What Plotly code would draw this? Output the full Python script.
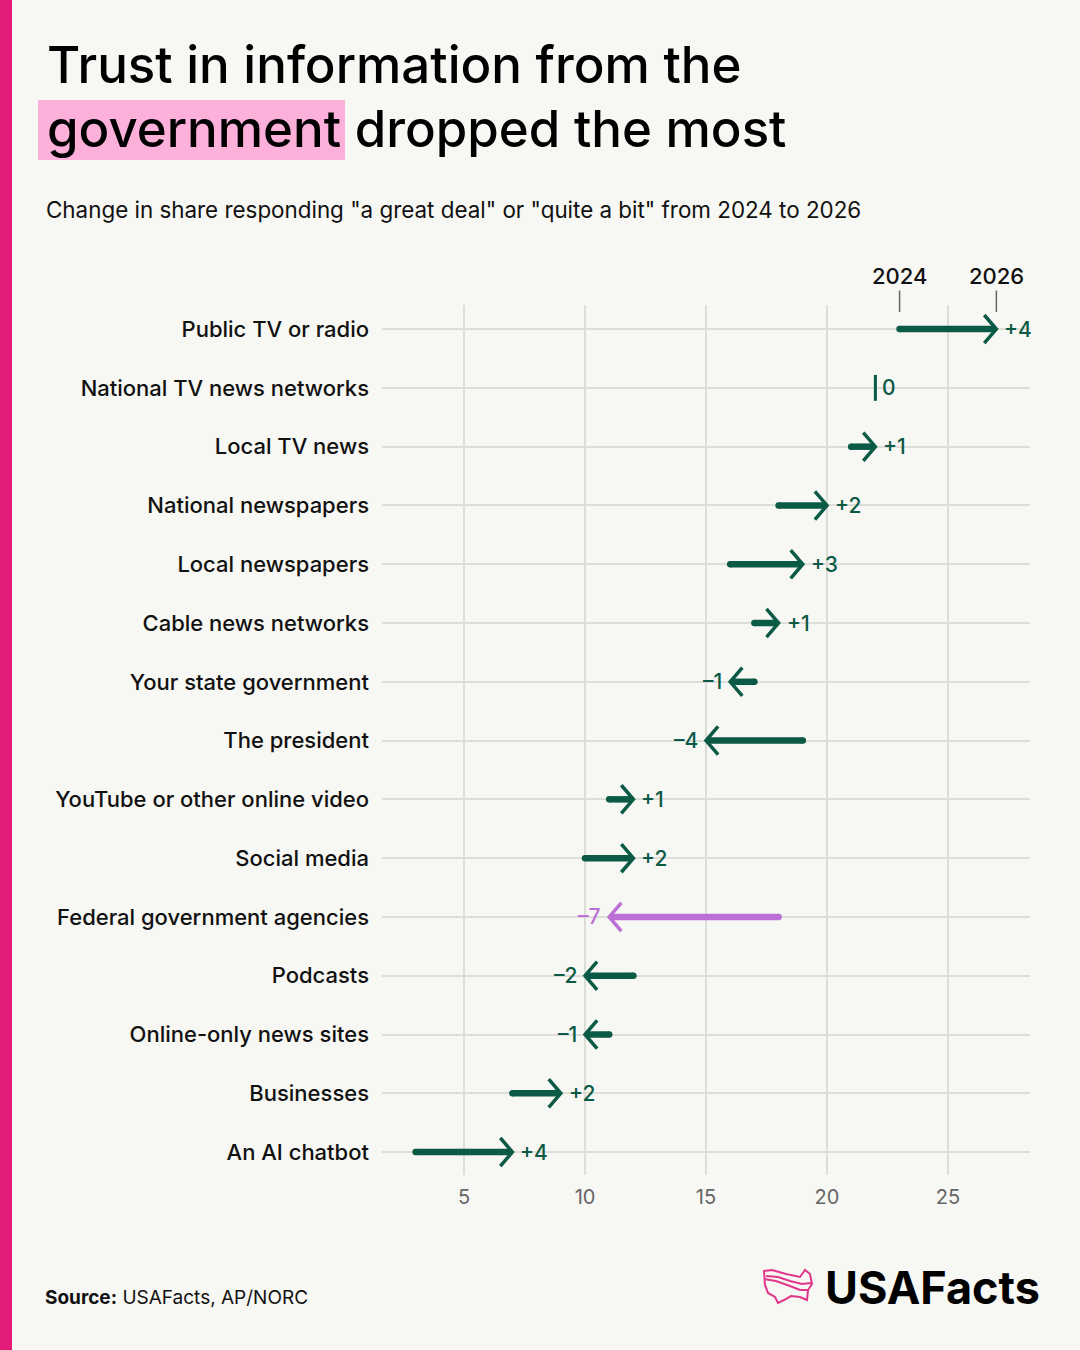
import plotly.graph_objects as go

# data
categories = ['Public TV or radio', 'National TV news networks', 'Local TV news',
              'National newspapers', 'Local newspapers', 'Cable news networks',
              'Your state government', 'The president', 'YouTube or other online video',
              'Social media', 'Federal government agencies', 'Podcasts',
              'Online-only news sites', 'Businesses', 'An AI chatbot']
share_2024 = [23, 22, 21, 18, 16, 17, 17, 19, 11, 10, 18, 12, 11, 7, 3]
share_2026 = [27, 22, 22, 20, 19, 18, 16, 15, 12, 12, 11, 10, 10, 9, 7]
highlight = 'Federal government agencies'
x_ticks = [5, 10, 15, 20, 25]

GREEN = '#0B5A46'
PURPLE = '#BB70D6'
BG = '#F7F7F3'
GRID = '#DEDED9'
FONT = 'Inter'

W, H = 1080, 1350
L, R, T, B = 382, 50, 305, 175
PW, PH = W - L - R, H - T - B


def px(x):
    return (x - L) / PW


def py(y):
    return (H - B - y) / PH


fig = go.Figure()
annotations = []

for i, (cat, a, b) in enumerate(zip(categories, share_2024, share_2026)):
    col = PURPLE if cat == highlight else GREEN
    d = b - a
    if d == 0:
        fig.add_trace(go.Scatter(x=[a, a], y=[i - 0.22, i + 0.22], mode='lines',
                                 line=dict(color=col, width=3), hoverinfo='skip'))
        annotations.append(dict(x=a, y=i, xref='x', yref='y', text='0', showarrow=False,
                                xanchor='left', xshift=5,
                                font=dict(family=FONT, size=21, weight=500, color=col)))
        continue
    s = 1 if d > 0 else -1
    fig.add_trace(go.Scatter(x=[a, b - 0.08 * s], y=[i, i], mode='lines',
                             line=dict(color=col, width=6.5), hoverinfo='skip'))
    fig.add_trace(go.Scatter(x=[a], y=[i], mode='markers',
                             marker=dict(color=col, size=6.5), hoverinfo='skip'))
    fig.add_trace(go.Scatter(x=[b - 0.5 * s, b, b - 0.5 * s], y=[i - 0.24, i, i + 0.24],
                             mode='lines', line=dict(color=col, width=3.5), hoverinfo='skip'))
    label = f'+{d}' if d > 0 else f'\u2013{abs(d)}'
    annotations.append(dict(x=b, y=i, xref='x', yref='y', text=label, showarrow=False,
                            xanchor='left' if d > 0 else 'right', xshift=6 * s,
                            font=dict(family=FONT, size=21, weight=500, color=col)))

# year markers above the first row
for yr, v in [('2024', share_2024[0]), ('2026', share_2026[0])]:
    annotations.append(dict(x=v, y=-0.29, xref='x', yref='y', text=yr, showarrow=True,
                            arrowhead=0, arrowwidth=1.5, arrowcolor='#666', ax=0, ay=-36,
                            standoff=0, font=dict(family=FONT, size=22, weight=500, color='#111')))

# title, subtitle, source, logo
annotations += [
    dict(x=px(45), y=py(65), xref='paper', yref='paper', xanchor='left', yanchor='middle',
         text='Trust in information from the', showarrow=False,
         font=dict(family=FONT, size=51, weight=500, color='#000')),
    dict(x=px(45), y=py(129), xref='paper', yref='paper', xanchor='left', yanchor='middle',
         text='government dropped the most', showarrow=False,
         font=dict(family=FONT, size=51, weight=500, color='#000')),
    dict(x=px(44), y=py(210), xref='paper', yref='paper', xanchor='left', yanchor='middle',
         text='Change in share responding "a great deal" or "quite a bit" from 2024 to 2026',
         showarrow=False, font=dict(family=FONT, size=22.4, color='#111')),
    dict(x=px(43), y=py(1297), xref='paper', yref='paper', xanchor='left', yanchor='middle',
         text='<b>Source:</b> USAFacts, AP/NORC', showarrow=False,
         font=dict(family=FONT, size=19, color='#111')),
    dict(x=px(823), y=py(1287), xref='paper', yref='paper', xanchor='left', yanchor='middle',
         text='<b>USAFacts</b>', showarrow=False,
         font=dict(family=FONT, size=45, color='#000')),
]


def path(points, close=False):
    p = 'M ' + ' L '.join(f'{px(x):.4f},{py(y):.4f}' for x, y in points)
    return p + (' Z' if close else '')


outline = [(764, 1271), (772, 1270), (786, 1274), (800, 1277), (805, 1270), (810, 1274),
           (812, 1284), (808, 1290), (807, 1300), (800, 1297), (791, 1296), (784, 1300),
           (778, 1303), (775, 1297), (768, 1293), (765, 1285)]
wave1 = [(764, 1279), (776, 1281), (790, 1286), (800, 1290), (808, 1290)]
wave2 = [(766, 1276), (778, 1277), (790, 1281), (802, 1284), (811, 1283)]

shapes = [
    dict(type='rect', xref='paper', yref='paper', x0=px(0), x1=px(12), y0=py(0), y1=py(H),
         fillcolor='#E31C79', line_width=0, layer='below'),
    dict(type='rect', xref='paper', yref='paper', x0=px(38), x1=px(345), y0=py(100),
         y1=py(160), fillcolor='#FDB0DA', line_width=0, layer='below'),
    dict(type='path', xref='paper', yref='paper', path=path(outline, True),
         line=dict(color='#E0378A', width=2)),
    dict(type='path', xref='paper', yref='paper', path=path(wave1),
         line=dict(color='#E0378A', width=2)),
    dict(type='path', xref='paper', yref='paper', path=path(wave2),
         line=dict(color='#E0378A', width=2)),
]

fig.update_layout(
    width=W, height=H,
    margin=dict(l=L, r=R, t=T, b=B),
    paper_bgcolor=BG, plot_bgcolor=BG,
    showlegend=False,
    annotations=annotations,
    shapes=shapes,
    xaxis=dict(range=[1.61, 28.39], tickvals=x_ticks, showgrid=True, gridcolor=GRID,
               gridwidth=1.5, zeroline=False, showline=False, ticks='',
               ticklabelstandoff=8, tickfont=dict(family=FONT, size=20, color='#666')),
    yaxis=dict(range=[14.39, -0.41], tickvals=list(range(len(categories))),
               ticktext=categories, showgrid=True, gridcolor=GRID, gridwidth=1.5,
               zeroline=False, showline=False, ticks='', ticklabelstandoff=12,
               tickfont=dict(family=FONT, size=22, weight=500, color='#111')),
)

fig.write_html('out.html', config={'displayModeBar': False},
               post_script="document.body.style.margin='0';")
